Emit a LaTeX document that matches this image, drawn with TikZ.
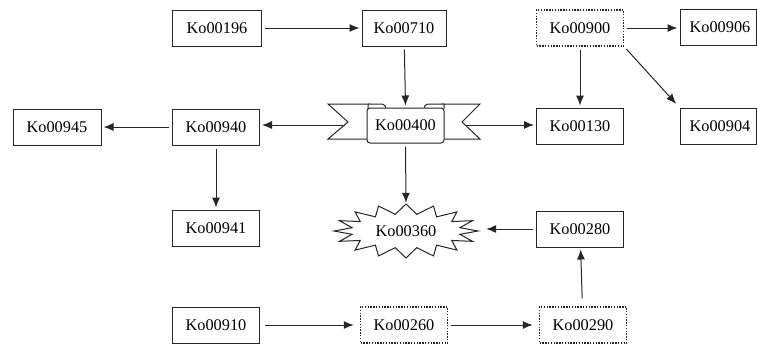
\documentclass[tikz,border=0pt]{standalone}
\usepackage{fontspec}
\setmainfont{Liberation Serif}
\usetikzlibrary{arrows.meta,shapes.geometric}
\begin{document}
\begin{tikzpicture}[x=1pt,y=-1pt,
  kbox/.style={draw=black!85, line width=1pt, minimum width=87pt, minimum height=36pt, inner sep=0pt, font=\fontsize{16.3}{19}\selectfont, fill=white},
  dotbox/.style={kbox, dash pattern=on 1.4pt off 1.4pt, line width=1.5pt},
  conn/.style={draw=black!85, line width=1pt, -{Latex[length=10pt,width=8pt]}, shorten <=3pt, shorten >=2pt},
  shape400/.style={draw=black!85, line width=1pt, fill=white, line join=miter}
]
\useasboundingbox (0,0) rectangle (757,346);
\clip (0,0) rectangle (757,346);

% banner wings
\draw[shape400] (370,104) -- (328,104) -- (348,122) -- (328,139) -- (370,139);
\draw[shape400] (441,104) -- (480,104) -- (462,122) -- (480,139) -- (441,139);
\draw[shape400] (368,109) -- (368,104) -- (382,104) to[out=0,in=90] (386,109);
\draw[shape400] (444,109) -- (444,104) -- (428,104) to[out=180,in=90] (424,109);
\node[kbox, minimum width=77pt, minimum height=35pt, rounded corners=3pt] (n400) at (405.5,125.5) {Ko00400};
\node[minimum width=114pt, minimum height=34pt, inner sep=0pt] (b400) at (405,125) {};

% starburst
\draw[shape400, line join=miter] plot[samples at={0,...,31}, variable=\k]
  ({406+ifthenelse(mod(\k,2)==0,72,55)*cos(\k*11.25)}, {231+ifthenelse(mod(\k,2)==0,27,17)*sin(\k*11.25)}) -- cycle;
\node[ellipse, minimum width=156pt, minimum height=52pt, inner sep=0pt, font=\fontsize{16.3}{19}\selectfont] (n360) at (406,231) {Ko00360};

\node[kbox, minimum width=89pt] (n196) at (217,28) {Ko00196};
\node[kbox, minimum width=84pt] (n710) at (404,28) {Ko00710};
\node[dotbox] (n900) at (580,28) {Ko00900};
\node[kbox, minimum width=76pt, text width=76pt, align=center] (n906) at (718,27) {\hspace*{4pt}Ko00906};
\node[kbox, minimum width=76pt, text width=76pt, align=center] (n904) at (718,126) {\hspace*{4pt}Ko00904};
\node[kbox] (n130) at (580,126) {Ko00130};
\node[kbox, minimum width=88pt] (n945) at (57,127) {Ko00945};
\node[kbox] (n940) at (216,127) {Ko00940};
\node[kbox] (n941) at (216,228) {Ko00941};
\node[kbox] (n280) at (580,229) {Ko00280};
\node[kbox] (n910) at (216,325) {Ko00910};
\node[dotbox] (n260) at (404,325) {Ko00260};
\node[dotbox] (n290) at (583,325) {Ko00290};

\draw[conn] (n196) -- (n710);
\draw[conn] (n710) -- (n400.north);
\draw[conn] (b400.west) -- (n940.east |- b400.west);
\draw[conn] (n940) -- (n945);
\draw[conn] (n940) -- (n941);
\draw[conn] (b400.east) -- (n130.west |- b400.east);
\draw[conn] (n400.south) -- (n360.north);
\draw[conn] (n900) -- (n906.west |- n900.east);
\draw[conn] (n900) -- (n130);
\draw[conn, shorten >=5pt] (n900.south east) -- (n904.north west);
\draw[conn] (n280) -- (n360.east |- n280.west);
\draw[conn, shorten <=5pt, shorten >=6pt] (n910) -- (n260);
\draw[conn, shorten >=6pt] (n260) -- (n290);
\draw[conn, shorten <=8pt] (n290) -- (n280);
\end{tikzpicture}
\end{document}
